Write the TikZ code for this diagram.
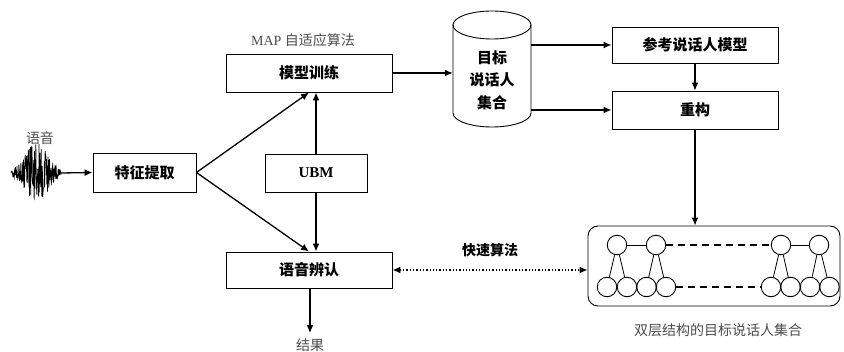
\documentclass[tikz,border=0pt]{standalone}
\usepackage{fontspec}
\setmainfont{Liberation Serif}
\newfontfamily\cjk{Noto Sans CJK SC}
\usetikzlibrary{arrows.meta,calc}
\begin{document}
\begin{tikzpicture}[x=1pt,y=-1pt,
  box/.style={draw,line width=0.9pt,minimum width=166pt,minimum height=37pt,inner sep=0pt,font=\cjk\bfseries\fontsize{15}{18}\selectfont},
  arr/.style={line width=1.3pt,-{Latex[length=8pt,width=7pt]}},
  lbl/.style={font=\cjk\fontsize{14}{16}\selectfont,text=black!70},
  circ/.style={draw,circle,minimum size=19.5pt,inner sep=0pt,line width=0.9pt},
  thinln/.style={line width=0.8pt},
  dashln/.style={line width=1.6pt,dash pattern=on 7pt off 5pt}
 ]
\useasboundingbox (0,0) rectangle (844,352);

% waveform
\pgfmathsetseed{11}
\draw[line width=0.7pt] plot[domain=11:61,samples=160,variable=\t] (\t,{173+30*exp(-((\t-36)/17)*((\t-36)/17))*rand});
\coordinate (wend) at (61,173);
\node[lbl] (lyy) at (40,138) {语音};

% boxes
\node[box,minimum width=103pt,minimum height=39pt] (feat) at (144.5,172.5) {特征提取};
\node[box,minimum height=38pt] (train) at (309,73) {模型训练};
\node[box,minimum width=102pt,minimum height=38pt,font=\bfseries\fontsize{15}{18}\selectfont] (ubm) at (316,173) {UBM};
\node[box,minimum height=36pt] (recog) at (309,270) {语音辨认};
\node[box,minimum height=36pt] (ref) at (695,45) {参考说话人模型};
\node[box,minimum height=38pt] (rec) at (695,110) {重构};

\node[font=\fontsize{14}{16}\selectfont,text=black!70] (map) at (303,40) {MAP {\cjk 自适应算法}};
\node[lbl] (res) at (310,345) {结果};
\coordinate (resend) at (310,333);

% cylinder
\draw[line width=0.9pt] (492,25) ellipse [x radius=39pt, y radius=14pt];
\draw[line width=0.9pt] (453,25) -- (453,113) arc[start angle=180, end angle=360, x radius=39pt, y radius=14pt] -- (531,25);
\node[minimum width=78pt,minimum height=117pt,inner sep=0pt] (cyl) at (492,68.5) {};
\node[align=center,font=\cjk\bfseries\fontsize{15}{22.5}\selectfont] (cyltxt) at (492,80) {目标\\说话人\\集合};

% group box
\node[draw,rounded corners=10pt,minimum width=252pt,minimum height=80pt,line width=0.9pt] (grp) at (714,266) {};
\node[lbl] (cap) at (718,330) {双层结构的目标说话人集合};
\node[font=\cjk\bfseries\fontsize{14}{16}\selectfont] (fast) at (490,250) {快速算法};

% tree
\foreach \n/\x in {T1/617,T2/656,T3/781,T4/819}
  \node[circ] (\n) at (\x,245) {};
\foreach \n/\x in {B1/607,B2/627,B3/646.5,B4/666,B5/771,B6/790.5,B7/810,B8/829.5}
  \node[circ] (\n) at (\x,287) {};
\draw[thinln] (T1) -- (T2) (T3) -- (T4);
\draw[thinln] (T1) -- (B1) (T1) -- (B2) (T2) -- (B3) (T2) -- (B4)
            (T3) -- (B5) (T3) -- (B6) (T4) -- (B7) (T4) -- (B8);
\draw[dashln] (T2) -- (T3);
\draw[dashln] (B4) -- (B5);

% connectors
\draw[arr] (wend) -- (feat.west);
\draw[arr] (feat.east) -- (train.south);
\draw[arr] (feat.east) -- (recog.north);
\draw[arr] (ubm.north) -- (ubm.north |- train.south);
\draw[arr] (ubm.south) -- (ubm.south |- recog.north);
\draw[arr] (train.east) -- (train.east -| cyl.west);
\draw[arr] (cyl.east |- ref.west) -- (ref.west);
\draw[arr] (cyl.east |- rec.west) -- (rec.west);
\draw[arr] (ref.south) -- (rec.north);
\draw[arr] (rec.south) -- (rec.south |- grp.north);
\draw[arr] (recog.south -| resend) -- (resend);
\draw[line width=1.3pt,dotted,{Latex[length=8pt,width=7pt]}-{Latex[length=8pt,width=7pt]}] (recog.east) -- (recog.east -| grp.west);
\end{tikzpicture}
\end{document}
